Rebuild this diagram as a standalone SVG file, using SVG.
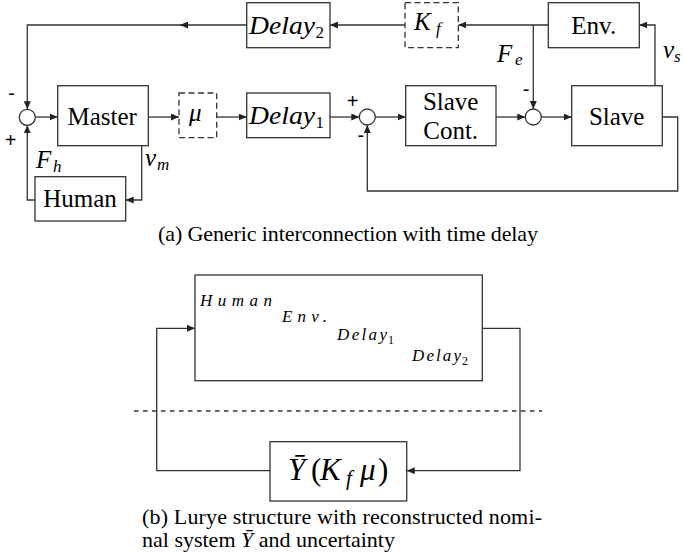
<svg xmlns="http://www.w3.org/2000/svg" width="683" height="554" viewBox="0 0 683 554">
<defs>
<marker id="ah" markerUnits="userSpaceOnUse" markerWidth="9" markerHeight="7" refX="8" refY="3.5" orient="auto">
<path d="M0,0 L8,3.5 L0,7 Z" fill="#222"/>
</marker>
<style>
.box{fill:#fff;stroke:#333;stroke-width:1.3}
.dbox{fill:#fff;stroke:#333;stroke-width:1.3;stroke-dasharray:6 3.5}
.sum{fill:#fff;stroke:#333;stroke-width:1.3}
.ln{fill:none;stroke:#333;stroke-width:1.3}
.arr{fill:none;stroke:#333;stroke-width:1.3;marker-end:url(#ah)}
</style>
</defs>

<g id="connectors">
<path class="arr" d="M35.3,117 H57.7"/>
<path class="arr" d="M148.3,117 H179"/>
<path class="arr" d="M216.7,117 H246.7"/>
<path class="arr" d="M330,117 H359.3"/>
<path class="arr" d="M375.3,117 H405.7"/>
<path class="arr" d="M496,117 H525.3"/>
<path class="arr" d="M541.3,117 H571.7"/>
<path class="arr" d="M662.3,117 H677.7 V191 H367.3 V125"/>
<path class="arr" d="M655,85.7 V25 H639.3"/>
<path class="arr" d="M548.3,25 H458.3"/>
<path class="arr" d="M533.3,25 V109"/>
<path class="arr" d="M405,25 H330"/>
<path class="arr" d="M246.7,25 H180"/>
<path class="arr" d="M182,25 H27.3 V109.3"/>
<path class="arr" d="M141.7,145.7 V200 H125.7"/>
<path class="arr" d="M35,200 H27.3 V125.3"/>
<path class="arr" d="M270,470.7 H156.7 V328.3 H195"/>
<path class="arr" d="M482.3,328.3 H520 V470.7 H406.7"/>
<path class="ln" d="M134,411 H542" stroke-dasharray="4.5 4.5"/>
</g>

<g id="sum1"><circle class="sum" cx="27.3" cy="117.3" r="8"/>
<text font-family="Liberation Sans" font-size="20" text-anchor="middle" x="11.7" y="99.5">-</text><text font-family="Liberation Sans" font-size="20" text-anchor="middle" x="10.5" y="147">+</text></g>
<g id="sum2"><circle class="sum" cx="367.3" cy="117" r="8"/>
<text font-family="Liberation Sans" font-size="20" text-anchor="middle" x="352.5" y="107.7">+</text><text font-family="Liberation Sans" font-size="20" text-anchor="middle" x="360.8" y="141.6">-</text></g>
<g id="sum3"><circle class="sum" cx="533.3" cy="117" r="8"/>
<text font-family="Liberation Sans" font-size="20" text-anchor="middle" x="526" y="95.6">-</text></g>

<g id="master"><rect class="box" x="57.7" y="85.7" width="90.6" height="60"/>
<text font-family="Liberation Serif" font-size="25" text-anchor="middle" x="102.2" y="125">Master</text></g>
<g id="human"><rect class="box" x="35" y="176.7" width="90.7" height="44.3"/>
<text font-family="Liberation Serif" font-size="25" text-anchor="middle" x="80" y="207.3">Human</text></g>
<g id="mu"><rect class="dbox" x="179" y="93" width="37.7" height="44.7"/>
<text font-family="Liberation Serif" font-style="italic" font-size="25" x="189" y="121">μ</text></g>
<g id="delay1"><rect class="box" x="246.7" y="93" width="83.3" height="44.7"/>
<text font-family="Liberation Serif" font-style="italic" font-size="25" x="249" y="124" textLength="66" lengthAdjust="spacingAndGlyphs">Delay</text><text font-family="Liberation Serif" font-size="17" x="315.5" y="128">1</text></g>
<g id="delay2"><rect class="box" x="246.7" y="2.7" width="83.3" height="45"/>
<text font-family="Liberation Serif" font-style="italic" font-size="25" x="249" y="33.5" textLength="66" lengthAdjust="spacingAndGlyphs">Delay</text><text font-family="Liberation Serif" font-size="17" x="315.5" y="38">2</text></g>
<g id="kf"><rect class="dbox" x="405" y="2.7" width="53.3" height="45"/>
<text font-family="Liberation Serif" font-style="italic" font-size="25" x="414" y="30">K</text><text font-family="Liberation Serif" font-style="italic" font-size="17" x="436" y="34">f</text></g>
<g id="env"><rect class="box" x="548.3" y="2.7" width="91" height="45"/>
<text font-family="Liberation Serif" font-size="25" text-anchor="middle" x="593.7" y="34">Env.</text></g>
<g id="slavecont"><rect class="box" x="405.7" y="85.7" width="90.3" height="60"/>
<text font-family="Liberation Serif" font-size="25" text-anchor="middle" x="450.7" y="110">Slave</text><text font-family="Liberation Serif" font-size="25" text-anchor="middle" x="450.7" y="139.3">Cont.</text></g>
<g id="slave"><rect class="box" x="571.7" y="85.7" width="90.6" height="60"/>
<text font-family="Liberation Serif" font-size="25" text-anchor="middle" x="616.7" y="125">Slave</text></g>

<g id="labels">
<text font-family="Liberation Serif" font-style="italic" font-size="25" x="497" y="61.7">F</text><text font-family="Liberation Serif" font-style="italic" font-size="17" x="515" y="65">e</text>
<text font-family="Liberation Serif" font-style="italic" font-size="25" x="36" y="168">F</text><text font-family="Liberation Serif" font-style="italic" font-size="17" x="53" y="171.5">h</text>
<text font-family="Liberation Serif" font-style="italic" font-size="25" x="145" y="166">v</text><text font-family="Liberation Serif" font-style="italic" font-size="17" x="157" y="170">m</text>
<text font-family="Liberation Serif" font-style="italic" font-size="25" x="663" y="58">v</text><text font-family="Liberation Serif" font-style="italic" font-size="17" x="674" y="62">s</text>
</g>

<text font-family="Liberation Serif" font-size="22" x="158" y="240.5" textLength="380">(a) Generic interconnection with time delay</text>

<g id="uncertainty"><rect class="box" x="195" y="275" width="287.3" height="105.7"/>
<text font-family="Liberation Serif" font-style="italic" font-size="17" x="200" y="306" textLength="72">Human</text>
<text font-family="Liberation Serif" font-style="italic" font-size="17" x="282" y="321.7" textLength="45">Env.</text>
<text font-family="Liberation Serif" font-style="italic" font-size="17" x="337" y="340" textLength="50">Delay</text><text font-family="Liberation Serif" font-size="12" x="388" y="344">1</text>
<text font-family="Liberation Serif" font-style="italic" font-size="17" x="412" y="361" textLength="49">Delay</text><text font-family="Liberation Serif" font-size="12" x="462" y="365">2</text>
</g>
<g id="nominal"><rect class="box" x="270" y="441.7" width="136.7" height="59.3"/>
<text font-family="Liberation Serif" font-style="italic" font-size="31" x="288" y="480">Ȳ</text>
<text font-family="Liberation Serif" font-size="31" x="311" y="480">(</text>
<text font-family="Liberation Serif" font-style="italic" font-size="31" x="320" y="480">K</text>
<text font-family="Liberation Serif" font-style="italic" font-size="21" x="346" y="485">f</text>
<text font-family="Liberation Serif" font-style="italic" font-size="31" x="360" y="480">μ</text>
<text font-family="Liberation Serif" font-size="31" x="378" y="480">)</text>
</g>

<text font-family="Liberation Serif" font-size="22" x="142" y="524" textLength="400">(b) Lurye structure with reconstructed nomi-</text>
<text font-family="Liberation Serif" font-size="22" x="142" y="547">nal system <tspan font-style="italic">Ȳ</tspan> and uncertainty</text>
</svg>
